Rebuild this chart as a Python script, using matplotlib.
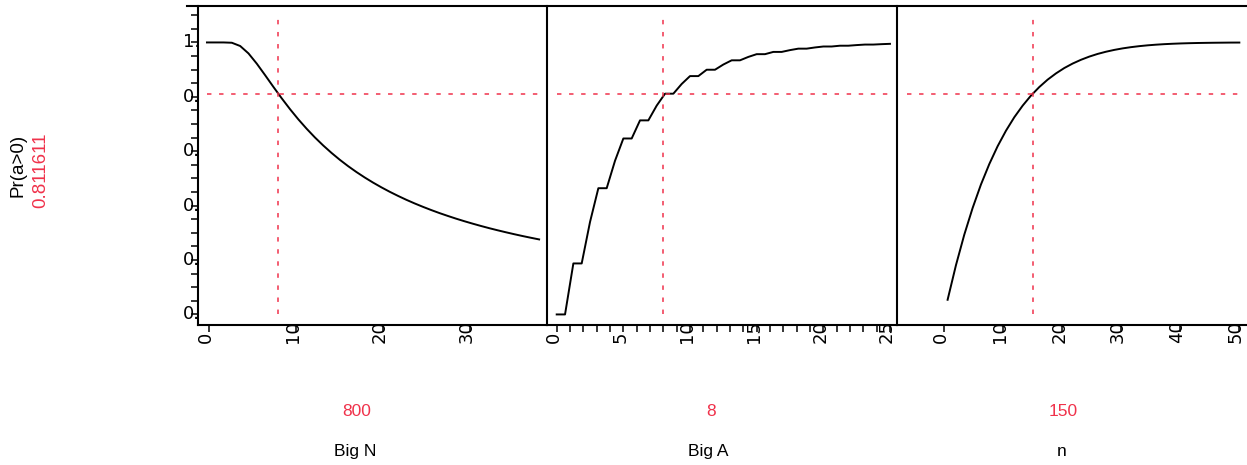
import numpy as np
import matplotlib
matplotlib.use("Agg")
import matplotlib.pyplot as plt
from matplotlib import transforms
from matplotlib.transforms import Bbox, TransformedBbox
from matplotlib.lines import Line2D

big_n = [-20, 75, 171, 266, 362, 457, 553, 648, 744, 839, 935, 1030, 1125, 1221,
         1316, 1412, 1507, 1603, 1698, 1794, 1889, 1985, 2080, 2175, 2271, 2366,
         2462, 2557, 2653, 2748, 2844, 2939, 3034, 3130, 3225, 3321, 3416, 3512,
         3607, 3703, 3798]
pr_big_n = [1.0, 1.0, 1.0, 0.9989, 0.9869, 0.9598, 0.9219, 0.8799, 0.8365, 0.7947,
            0.7546, 0.7174, 0.6830, 0.6507, 0.6213, 0.5938, 0.5686, 0.5451, 0.5236,
            0.5034, 0.4848, 0.4673, 0.4511, 0.4360, 0.4216, 0.4083, 0.3957, 0.3839,
            0.3726, 0.3622, 0.3521, 0.3427, 0.3338, 0.3252, 0.3171, 0.3094, 0.3021,
            0.2950, 0.2883, 0.2819, 0.2758]

big_a = [0, 0.625, 1.25, 1.875, 2.5, 3.125, 3.75, 4.375, 5.0, 5.625, 6.25, 6.875,
         7.5, 8.125, 8.75, 9.375, 10.0, 10.625, 11.25, 11.875, 12.5, 13.125, 13.75,
         14.375, 15.0, 15.625, 16.25, 16.875, 17.5, 18.125, 18.75, 19.375, 20.0,
         20.625, 21.25, 21.875, 22.5, 23.125, 23.75, 24.375, 25.0]
pr_big_a = [0.0, 0.0, 0.1875, 0.1875, 0.3400, 0.4641, 0.4641, 0.5650, 0.6469, 0.6469,
            0.7135, 0.7135, 0.7677, 0.8116, 0.8116, 0.8473, 0.8763, 0.8763, 0.8997,
            0.8997, 0.9188, 0.9343, 0.9343, 0.9468, 0.9569, 0.9569, 0.9652, 0.9652,
            0.9718, 0.9772, 0.9772, 0.9816, 0.9851, 0.9851, 0.9880, 0.9880, 0.9903,
            0.9922, 0.9922, 0.9937, 0.9949]

small_n = [5.5, 19.7, 33.8, 48.0, 62.1, 76.3, 90.4, 104.6, 118.7, 132.9, 147.0, 161.2,
           175.3, 189.5, 203.6, 217.8, 231.9, 246.1, 260.2, 274.4, 288.5, 302.7,
           316.8, 331.0, 345.1, 359.3, 373.4, 387.6, 401.7, 415.9, 430.0, 444.2,
           458.3, 472.5, 486.6, 500.8]
pr_small_n = [0.0539, 0.1812, 0.2931, 0.3915, 0.4776, 0.5529, 0.6184, 0.6755, 0.7249,
              0.7676, 0.8045, 0.8361, 0.8632, 0.8862, 0.9059, 0.9224, 0.9362, 0.9480,
              0.9578, 0.9659, 0.9726, 0.9782, 0.9827, 0.9864, 0.9894, 0.9918, 0.9937,
              0.9952, 0.9964, 0.9973, 0.9980, 0.9985, 0.9989, 0.9992, 0.9995, 0.9996]
small_n_lo = -64          # left end of the n profile range (curve undefined below 0)

current_vals = [800, 8, 150]
current_labels = ["800", "8", "150"]
factor_names = ["Big N", "Big A", "n"]
current_pr = 0.811611
guide_top = 1.085

big_n_ticks = [0, 1000, 2000, 3000]
big_a_ticks = [0, 5, 10, 15, 20, 25]
small_n_ticks = [0, 100, 200, 300, 400, 500]
y_ticks = [0.0, 0.2, 0.4, 0.6, 0.8, 1.0]

RED = "#F0324B"
W, H = 1247, 465

fig = plt.figure(figsize=(W / 100, H / 100), dpi=100)
plt.rcParams["font.family"] = ["Liberation Sans", "DejaVu Sans"]

top_px, bot_px = 6, 324.5
edges = [198.3, 547.3, 897.3, 1247]
xlims = [(-119.5, 3892), (-0.705, 25.55), (-79.9, 513.8)]
ylim = (-0.037, 1.134)

series = [(big_n, pr_big_n, big_n_ticks, [f"{t}" for t in big_n_ticks], None),
          (big_a, pr_big_a, big_a_ticks, [f"{t}" for t in big_a_ticks], 1),
          (small_n, pr_small_n, small_n_ticks, [f"{t}" for t in small_n_ticks], None)]

axis_clip = TransformedBbox(Bbox([[0, 0], [1, (H - bot_px - 1) / H]]), fig.transFigure)
y_clip = TransformedBbox(Bbox([[0, 0], [(edges[0] - 1.2) / W, 1]]), fig.transFigure)

axes = []
for i, (xs, ys, ticks, labels, minor) in enumerate(series):
    x0, x1 = edges[i], edges[i + 1]
    ax = fig.add_axes([x0 / W, 1 - bot_px / H, (x1 - x0) / W, (bot_px - top_px) / H])
    ax.set_xlim(*xlims[i])
    ax.set_ylim(*ylim)
    for s in ["top", "right"]:
        ax.spines[s].set_visible(False)
    for s in ["left", "bottom"]:
        ax.spines[s].set_linewidth(1.5)
    ax.set_xticks(ticks)
    if minor:
        ax.set_xticks(np.arange(0, 26, minor), minor=True)
    ax.tick_params(axis="x", which="both", direction="out", length=5, width=1.1,
                   labelbottom=False)
    if i == 0:
        ax.set_yticks(y_ticks)
        ax.set_yticks(np.arange(0, 1.11, 0.05), minor=True)
        ax.tick_params(axis="y", which="both", direction="out", length=5, width=1.1,
                       labelleft=False)
        ytr = transforms.blended_transform_factory(fig.transFigure, ax.transData)
        for v in y_ticks:
            t = ax.text(183 / W, v, f"{v:.1f}", transform=ytr, ha="left", va="center",
                        fontsize=13, family="DejaVu Sans", clip_on=True)
            t.set_clip_box(y_clip)
    else:
        ax.tick_params(axis="y", which="both", left=False, labelleft=False)

    # tick labels: rotated and clipped by the axis line, as in the profiler
    xtr = transforms.blended_transform_factory(ax.transData, fig.transFigure) + \
        transforms.ScaledTranslation(-3 / 100, 0, fig.dpi_scale_trans)
    for t_val, lab in zip(ticks, labels):
        t = ax.text(t_val, 1 - 343 / H, lab, transform=xtr, rotation=90,
                    rotation_mode="anchor", ha="left", va="center", fontsize=13,
                    family="DejaVu Sans", clip_on=True)
        t.set_clip_box(axis_clip)

    ax.plot(xs, ys, color="black", lw=1.4)
    lo = small_n_lo if i == 2 else xs[0]
    ax.hlines(current_pr, lo, xs[-1], colors=RED, lw=1.1, linestyles=[(0, (2.9, 5.0))])
    ax.vlines(current_vals[i], 0, guide_top, colors=RED, lw=1.1,
              linestyles=[(0, (2.9, 5.0))])
    axes.append(ax)

# top frame line
fig.add_artist(Line2D([187 / W, 1], [1 - top_px / H] * 2, transform=fig.transFigure,
                      color="black", lw=1.5))

# factor names and current settings
val_x = [357, 711, 1063]
name_x = [355, 708, 1062]
for vx, nx, lab, name in zip(val_x, name_x, current_labels, factor_names):
    fig.text(vx / W, 1 - 411 / H, lab, color=RED, fontsize=12.5, ha="center", va="center")
    fig.text(nx / W, 1 - 451 / H, name, color="black", fontsize=12.5, ha="center",
             va="center")

fig.text(18.3 / W, 1 - 165.5 / H, "Pr(a>0)", rotation=90, fontsize=13.5, ha="center",
         va="center")
fig.text(40.5 / W, 1 - 170.5 / H, f"{current_pr:.6f}", rotation=90, fontsize=13.5,
         color=RED, ha="center", va="center")

fig.savefig("out.png", dpi=100)
